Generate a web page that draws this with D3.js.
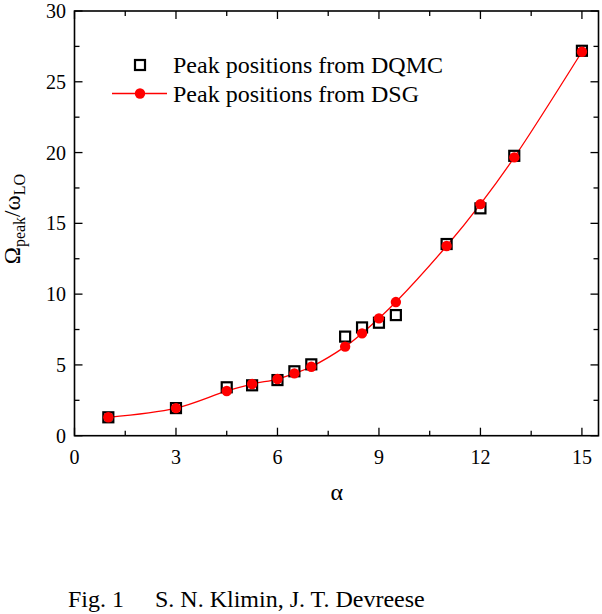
<!DOCTYPE html>
<html>
<head>
<meta charset="utf-8">
<script src="https://cdn.jsdelivr.net/npm/d3@7"></script>
<style>
  html, body { margin: 0; padding: 0; background: #fff; }
  svg { display: block; }
  text { font-family: "Liberation Serif", "Times New Roman", serif; fill: #000; }
</style>
</head>
<body>
<svg id="chart" width="602" height="614"></svg>
<script>
const alphaDQMC = [1, 3, 4.5, 5.25, 6, 6.5, 7, 8, 8.5, 9, 9.5, 11, 12, 13, 15];
const peakDQMC  = [1.3, 1.95, 3.42, 3.56, 3.93, 4.55, 5.04, 7.0, 7.65, 7.98, 8.52, 13.54, 16.06, 19.77, 27.19];
const alphaDSG  = [1, 3, 4.5, 5.25, 6, 6.5, 7, 8, 8.5, 9, 9.5, 11, 12, 13, 15];
const peakDSG   = [1.3, 1.95, 3.16, 3.65, 4.0, 4.4, 4.87, 6.29, 7.23, 8.29, 9.44, 13.4, 16.36, 19.66, 27.12];
const xTicks = [0, 3, 6, 9, 12, 15];
const yTicks = [0, 5, 10, 15, 20, 25, 30];
const legendLabels = ["Peak positions from DQMC", "Peak positions from DSG"];
const captionLeft = "Fig. 1";
const captionRight = "S. N. Klimin, J. T. Devreese";

const svg = d3.select("#chart");
const L = 74.5, R = 598.5, T = 11, B = 435.7;
const x = d3.scaleLinear().domain([0, 15.49]).range([L, R]);
const y = d3.scaleLinear().domain([0, 30]).range([B, T]);

const xMinor = d3.range(0, 15.01, 1.5);
const yMinor = d3.range(0, 30.01, 2.5);

// frame
svg.append("rect").attr("x", L).attr("y", T).attr("width", R - L).attr("height", B - T)
  .attr("fill", "none").attr("stroke", "#000").attr("stroke-width", 1.6);

const g = svg.append("g").attr("stroke", "#000").attr("stroke-width", 1.3);
xMinor.forEach(v => {
  const major = xTicks.some(t => Math.abs(t - v) < 1e-6);
  const len = major ? 8 : 5;
  g.append("line").attr("x1", x(v)).attr("x2", x(v)).attr("y1", B).attr("y2", B - len);
  g.append("line").attr("x1", x(v)).attr("x2", x(v)).attr("y1", T).attr("y2", T + len);
});
yMinor.forEach(v => {
  const major = yTicks.some(t => Math.abs(t - v) < 1e-6);
  const len = major ? 8 : 5;
  g.append("line").attr("y1", y(v)).attr("y2", y(v)).attr("x1", L).attr("x2", L + len);
  g.append("line").attr("y1", y(v)).attr("y2", y(v)).attr("x1", R).attr("x2", R - len);
});

// tick labels
svg.append("g").selectAll("text").data(xTicks).join("text")
  .attr("x", d => x(d)).attr("y", 464).attr("text-anchor", "middle")
  .attr("font-size", 20).text(d => d);
svg.append("g").selectAll("text").data(yTicks).join("text")
  .attr("x", 66).attr("y", d => y(d) + 7).attr("text-anchor", "end")
  .attr("font-size", 20).text(d => d);

// axis titles
svg.append("text").attr("x", x(7.75)).attr("y", 500).attr("text-anchor", "middle")
  .attr("font-size", 24).text("α");
const yl = svg.append("text").attr("transform", "translate(19.5," + y(15.3) + ") rotate(-90)")
  .attr("text-anchor", "middle").attr("font-size", 23);
yl.append("tspan").text("Ω");
yl.append("tspan").attr("font-size", 16).attr("dy", 5).text("peak");
yl.append("tspan").attr("dy", -5).text("/ω");
yl.append("tspan").attr("font-size", 16).attr("dy", 5).text("LO");

// curve
const dsg = alphaDSG.map((a, i) => [a, peakDSG[i]]);
const dq = alphaDQMC.map((a, i) => [a, peakDQMC[i]]);
svg.append("path").datum(dsg)
  .attr("d", d3.line().x(d => x(d[0])).y(d => y(d[1])).curve(d3.curveCatmullRom.alpha(0.5)))
  .attr("fill", "none").attr("stroke", "#ff0000").attr("stroke-width", 1.3);

// squares
const sq = 10;
svg.append("g").selectAll("rect").data(dq).join("rect")
  .attr("x", d => x(d[0]) - sq / 2).attr("y", d => y(d[1]) - sq / 2)
  .attr("width", sq).attr("height", sq)
  .attr("fill", "none").attr("stroke", "#000").attr("stroke-width", 2.2);
// circles
svg.append("g").selectAll("circle").data(dsg).join("circle")
  .attr("cx", d => x(d[0])).attr("cy", d => y(d[1])).attr("r", 5.2)
  .attr("fill", "#ff0000");

// legend
svg.append("rect").attr("x", 140 - sq / 2).attr("y", 65 - sq / 2).attr("width", sq).attr("height", sq)
  .attr("fill", "none").attr("stroke", "#000").attr("stroke-width", 2.2);
svg.append("text").attr("x", 173).attr("y", 73).attr("font-size", 24).text(legendLabels[0]);
svg.append("line").attr("x1", 112).attr("x2", 167).attr("y1", 93.5).attr("y2", 93.5)
  .attr("stroke", "#ff0000").attr("stroke-width", 1.3);
svg.append("circle").attr("cx", 140).attr("cy", 93.5).attr("r", 5.2).attr("fill", "#ff0000");
svg.append("text").attr("x", 173).attr("y", 102).attr("font-size", 24).text(legendLabels[1]);

// caption
svg.append("text").attr("x", 68).attr("y", 607).attr("font-size", 24).text(captionLeft);
svg.append("text").attr("x", 155).attr("y", 607).attr("font-size", 24).text(captionRight);
</script>
</body>
</html>
